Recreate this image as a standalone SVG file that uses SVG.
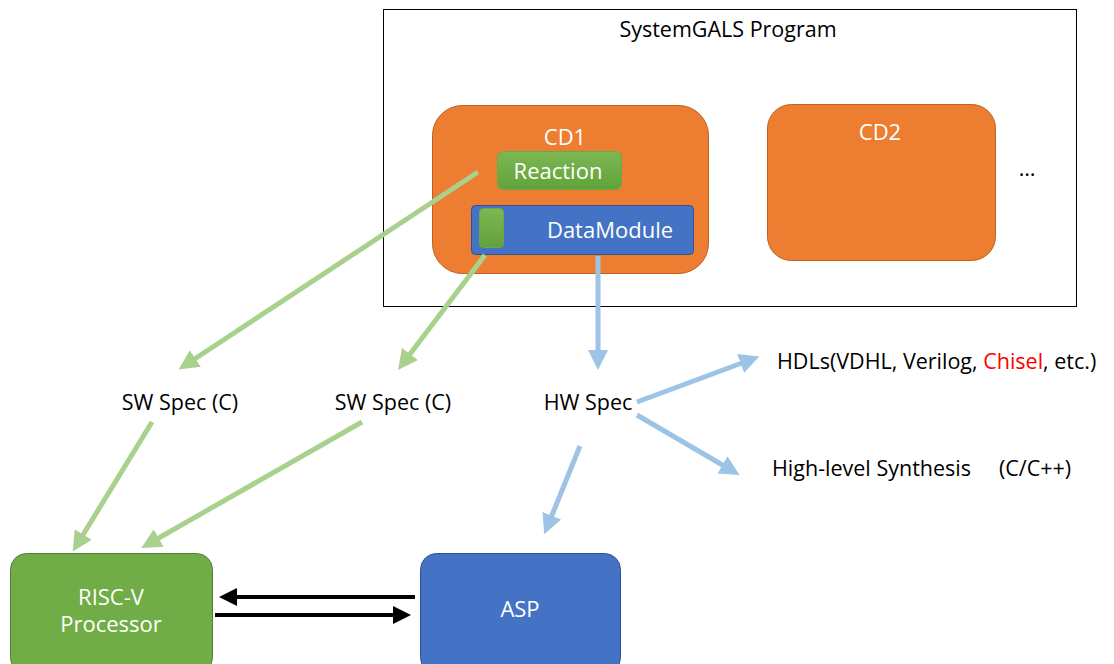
<svg xmlns="http://www.w3.org/2000/svg" width="1114" height="664" viewBox="0 0 1114 664">
  <defs>
    <linearGradient id="greenGrad" x1="0" y1="0" x2="0" y2="1">
      <stop offset="0" stop-color="#7CB854"/>
      <stop offset="1" stop-color="#62A23A"/>
    </linearGradient>
    <marker id="headGreen" viewBox="0 0 10 10" refX="5" refY="5" markerWidth="4" markerHeight="4" orient="auto" markerUnits="strokeWidth">
      <path d="M0,0 L10,5 L0,10 Z" fill="#A9D18E"/>
    </marker>
    <marker id="headBlue" viewBox="0 0 10 10" refX="5" refY="5" markerWidth="4" markerHeight="4" orient="auto" markerUnits="strokeWidth">
      <path d="M0,0 L10,5 L0,10 Z" fill="#9DC3E6"/>
    </marker>
    <marker id="headBlack" viewBox="0 0 10 10" refX="5" refY="5" markerWidth="4.5" markerHeight="4.5" orient="auto" markerUnits="strokeWidth">
      <path d="M0,0 L10,5 L0,10 Z" fill="#000"/>
    </marker>
  </defs>
  <style>
    text { font-family: "Open Sans", "Noto Sans", sans-serif; }
    .lbl { font-size: 21.5px; fill: #000; }
    .wt { font-size: 22px; fill: #fff; }
    .green { stroke: #A9D18E; stroke-width: 5; fill: none; marker-end: url(#headGreen); }
    .blue { stroke: #9DC3E6; stroke-width: 5; fill: none; marker-end: url(#headBlue); }
    .black { stroke: #000; stroke-width: 4; fill: none; marker-end: url(#headBlack); }
    .cd { fill: #ED7D31; stroke: #C05F1E; stroke-width: 1; }
  </style>
  <rect width="1114" height="664" fill="#fff"/>

  <g id="program">
    <rect x="383.5" y="9.5" width="693" height="297" fill="#fff" stroke="#000" stroke-width="1"/>
    <text class="lbl" x="728" y="37" text-anchor="middle">SystemGALS Program</text>
  </g>

  <g id="cd1">
    <rect class="cd" x="432.5" y="105.5" width="276" height="168" rx="30"/>
    <text class="wt" x="565" y="145" text-anchor="middle">CD1</text>
  </g>

  <g id="reaction">
    <rect x="497.5" y="151.5" width="124" height="38" rx="6" fill="url(#greenGrad)" stroke="#6AA84A" stroke-width="1"/>
    <text class="wt" x="558" y="179" text-anchor="middle">Reaction</text>
  </g>

  <g id="datamodule">
    <rect x="471.5" y="205.5" width="222" height="49" rx="4" fill="#4472C4" stroke="#2F528F" stroke-width="1"/>
    <rect x="479.5" y="208.5" width="24" height="39" rx="4" fill="url(#greenGrad)" stroke="#6AA84A" stroke-width="1"/>
    <text class="wt" x="610" y="238" text-anchor="middle">DataModule</text>
  </g>

  <g id="cd2">
    <rect class="cd" x="767.5" y="104.5" width="228" height="156" rx="24"/>
    <text class="wt" x="880" y="140" text-anchor="middle">CD2</text>
  </g>

  <g id="more">
    <text class="lbl" x="1027" y="176" text-anchor="middle" font-size="18">…</text>
  </g>

  <g id="sw-spec-1">
    <text class="lbl" x="180" y="410" text-anchor="middle">SW Spec (C)</text>
  </g>
  <g id="sw-spec-2">
    <text class="lbl" x="393" y="410" text-anchor="middle">SW Spec (C)</text>
  </g>
  <g id="hw-spec">
    <text class="lbl" x="588" y="410" text-anchor="middle">HW Spec</text>
  </g>
  <g id="hdls">
    <text class="lbl" x="777" y="369">HDLs(VDHL, Verilog, <tspan fill="#FF0000">Chisel</tspan>, etc.)</text>
  </g>
  <g id="hls">
    <text class="lbl" x="772" y="476" xml:space="preserve">High-level Synthesis     (C/C++)</text>
  </g>

  <g id="riscv">
    <rect x="10.5" y="553.5" width="202" height="120" rx="16" fill="#70AD47" stroke="#507E32" stroke-width="1"/>
    <text class="wt" x="111" y="605" text-anchor="middle">RISC-V</text>
    <text class="wt" x="111" y="632" text-anchor="middle">Processor</text>
  </g>

  <g id="asp">
    <rect x="420.5" y="553.5" width="200" height="120" rx="16" fill="#4472C4" stroke="#2F528F" stroke-width="1"/>
    <text class="wt" x="520" y="617" text-anchor="middle">ASP</text>
  </g>

  <g id="connectors">
    <line class="green" x1="478" y1="172" x2="187" y2="364"/>
    <line class="green" x1="485" y1="255" x2="404" y2="362"/>
    <line class="green" x1="152" y1="422" x2="78" y2="543"/>
    <line class="green" x1="362" y1="422" x2="150" y2="543"/>
    <line class="blue" x1="598" y1="256" x2="598" y2="360"/>
    <line class="blue" x1="637" y1="402" x2="750" y2="360"/>
    <line class="blue" x1="637" y1="415" x2="731" y2="470"/>
    <line class="blue" x1="580" y1="446" x2="548" y2="525"/>
    <line class="black" x1="415" y1="597" x2="228" y2="597"/>
    <line class="black" x1="215" y1="615" x2="402" y2="615"/>
  </g>
</svg>
